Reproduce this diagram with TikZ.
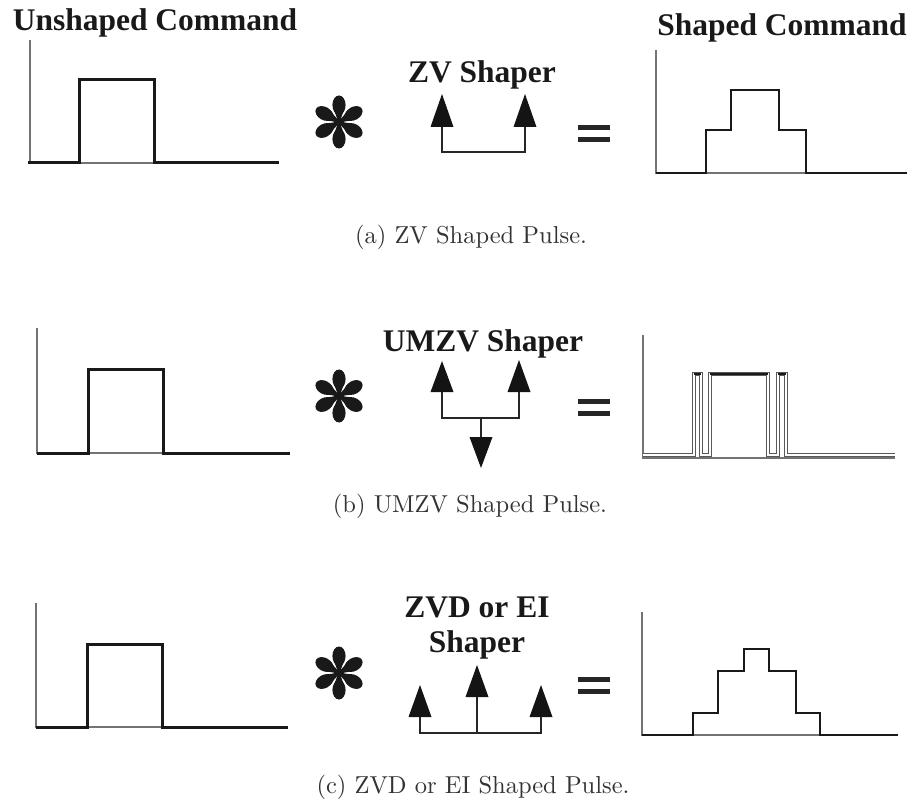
\documentclass[tikz,border=0pt]{standalone}
\usepackage{fontspec}
\newfontfamily\tnr{Liberation Serif}
\tikzset{
  starmark/.pic={
    \foreach \a in {30,90,150,210,270,330}{
      \fill[black!90,rotate=\a] (17pt,0pt) ellipse [x radius=9.5pt, y radius=6.6pt];
      \fill[black!90,rotate=\a] (0pt,0pt) -- (0pt,1.5pt) .. controls (6pt,2pt) and (9pt,4pt) .. (12pt,5.5pt) -- (12pt,-5.5pt) .. controls (9pt,-4pt) and (6pt,-2pt) .. (0pt,-1.5pt) -- cycle;
    }
    \fill[black!90] (0pt,0pt) circle (2.8pt);
  },
  eqsign/.pic={
    \fill[black!85] (-16pt,-8.5pt) rectangle (16pt,-3.5pt);
    \fill[black!85] (-16pt,3.5pt) rectangle (16pt,8.5pt);
  }
}
\newcommand\captxt[1]{\scalebox{2.45}{\fontsize{10}{12}\selectfont #1}}
\begin{document}
\begin{tikzpicture}[x=1pt,y=-1pt,
  axis/.style={draw=black!55, line width=1.6pt},
  sig/.style={draw=black!90, line width=3pt, line join=miter},
  sigthin/.style={draw=black!90, line width=2.6pt, line join=miter},
  hollow/.style={draw=black!65, line width=1pt, double=white, double distance=1.6pt},
  stem/.style={draw=black!85, line width=2.2pt},
  head/.style={fill=black!92},
  lbl/.style={font=\tnr\bfseries\fontsize{31.5}{33}\selectfont, inner sep=0pt, anchor=base, text=black!90},
  captext/.style={inner sep=0pt, anchor=base, text=black!80}]
\useasboundingbox (0,0) rectangle (914,805);

% ---------- (a) ----------
\node[lbl] (t1) at (155,31) {Unshaped Command};
\node[lbl] (t2) at (782,36) {Shaped Command};
\draw[axis] (30,40) -- (30,163) -- (279,163);
\draw[sig] (28,163) -- (79,163) -- (79,80) -- (154,80) -- (154,163) -- (279,163);
\pic at (339,122) {starmark};
\node[lbl] (s1) at (482,83) {ZV Shaper};
\draw[stem] (442,127) -- (442,152) -- (525,152) -- (525,127);
\fill[head] (430.5,127) -- (453.5,127) -- (442,94) -- cycle;
\fill[head] (513.5,127) -- (536.5,127) -- (525,94) -- cycle;
\pic at (594,133.5) {eqsign};
\draw[axis] (656,50) -- (656,173) -- (907,173);
\draw[sigthin] (656,173) -- (706,173) -- (706,130) -- (731,130) -- (731,90) -- (779,90) -- (779,130) -- (806,130) -- (806,173) -- (907,173);
\node[captext] (c1) at (471,244) {\captxt{(a) ZV Shaped Pulse.}};

% ---------- (b) ----------
\draw[axis] (37,328) -- (37,453) -- (290,453);
\draw[sig] (37,453) -- (88,453) -- (88,370) -- (163,370) -- (163,453) -- (290,453);
\pic at (339,396) {starmark};
\node[lbl] (s2) at (483,352) {UMZV Shaper};
\draw[stem] (442,392) -- (442,418) -- (519,418) -- (519,392);
\draw[stem] (481,418) -- (481,437);
\fill[head] (430.5,392) -- (453.5,392) -- (442,361) -- cycle;
\fill[head] (507.5,392) -- (530.5,392) -- (519,360) -- cycle;
\fill[head] (469.5,437) -- (492.5,437) -- (481,468) -- cycle;
\pic at (594,407) {eqsign};
\draw[axis] (643,335) -- (643,458) -- (895,458);
\draw[hollow] (643,455) -- (694,455) -- (694,374) -- (701,374) -- (701,455) -- (710,455) -- (710,374) -- (768,374) -- (768,455) -- (778,455) -- (778,374) -- (786,374) -- (786,455) -- (895,455);
\draw[black!90, line width=2.2pt] (694,374) -- (701,374);
\draw[black!90, line width=2.2pt] (710,374) -- (768,374);
\draw[black!90, line width=2.2pt] (778,374) -- (786,374);
\node[captext] (c2) at (470,512) {\captxt{(b) UMZV Shaped Pulse.}};

% ---------- (c) ----------
\draw[axis] (36,603) -- (36,727) -- (288,727);
\draw[sig] (36,727) -- (87,727) -- (87,644) -- (162,644) -- (162,727) -- (288,727);
\pic at (339,673) {starmark};
\node[lbl] (s3a) at (477,617) {ZVD or EI};
\node[lbl] (s3b) at (477,652) {Shaper};
\draw[stem] (420,717) -- (420,733) -- (541,733) -- (541,717);
\draw[stem] (477,733) -- (477,697);
\fill[head] (408.5,717) -- (431.5,717) -- (420,685) -- cycle;
\fill[head] (465.5,697) -- (488.5,697) -- (477,665) -- cycle;
\fill[head] (529.5,717) -- (552.5,717) -- (541,685) -- cycle;
\pic at (594,685) {eqsign};
\draw[axis] (642,612) -- (642,735) -- (898,735);
\draw[sigthin] (642,735) -- (693,735) -- (693,713) -- (718,713) -- (718,671) -- (744,671) -- (744,649) -- (769,649) -- (769,671) -- (796,671) -- (796,713) -- (820,713) -- (820,735) -- (898,735);
\node[captext] (c3) at (473,793) {\captxt{(c) ZVD or EI Shaped Pulse.}};
\end{tikzpicture}
\end{document}
